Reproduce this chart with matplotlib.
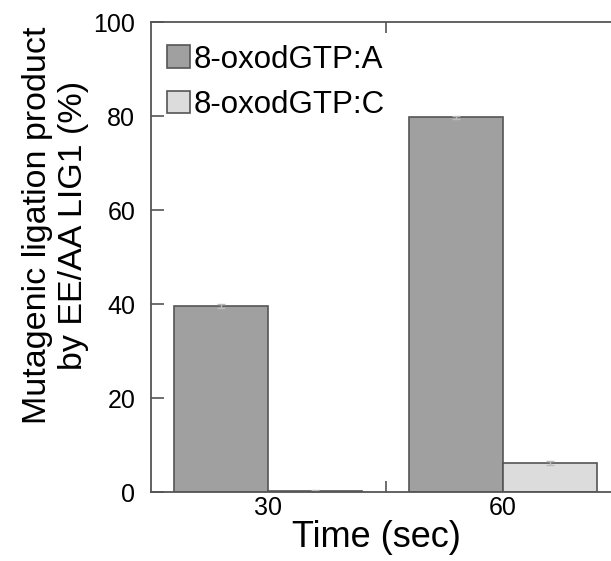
import numpy as np
import matplotlib
matplotlib.use("Agg")
from matplotlib import pyplot as plt

# data
times = ["30", "60"]
oxo_A = [39.6, 79.7]
oxo_C = [0.3, 6.2]
err_A = [0.4, 0.4]
err_C = [0.2, 0.4]

plt.rcParams['font.family'] = ['Liberation Sans', 'DejaVu Sans']

fig = plt.figure(figsize=(6.11, 5.61), dpi=100)
W, H = 611, 561
ax = fig.add_axes([150.5 / W, 1 - 492 / H, 470 / W, 470 / H])

x = np.arange(len(times))
w = 0.4
edge = '#555555'
ax.bar(x - w / 2, oxo_A, w, color='#a0a0a0', edgecolor=edge, linewidth=1.2,
       label='8-oxodGTP:A', yerr=err_A, error_kw=dict(ecolor='#bbbbbb', capsize=3, lw=1))
ax.bar(x + w / 2, oxo_C, w, color='#dcdcdc', edgecolor=edge, linewidth=1.2,
       label='8-oxodGTP:C', yerr=err_C, error_kw=dict(ecolor='#bbbbbb', capsize=3, lw=1))

ax.set_xlim(-0.5, 1.5)
ax.set_ylim(0, 100)
ax.set_xticks(x)
ax.set_xticklabels(times, fontsize=18)
ax.set_xticks([0.5], minor=True)
ax.tick_params(axis='x', which='major', length=0, pad=3)
ax.tick_params(axis='x', which='minor', direction='in', length=8, top=True, color=edge, width=1.2)
ax.set_yticks([0, 20, 40, 60, 80, 100])
ax.tick_params(axis='y', direction='in', length=9, labelsize=18, color=edge, width=1.2, pad=11)
for s in ax.spines.values():
    s.set_color(edge)
    s.set_linewidth(1.3)

ax.set_xlabel('Time (sec)', fontsize=26, labelpad=0, x=0.481)
ax.set_ylabel('Mutagenic ligation product\nby EE/AA LIG1 (%)', fontsize=24.5, labelpad=3,
              linespacing=1.2, y=0.568)

ax.legend(loc='upper left', bbox_to_anchor=(0.035, 0.952), frameon=False, fontsize=22.5,
          handlelength=0.75, handleheight=0.72, handletextpad=0.1, labelspacing=0.5,
          borderpad=0, borderaxespad=0)

plt.savefig("out.png", dpi=100)
